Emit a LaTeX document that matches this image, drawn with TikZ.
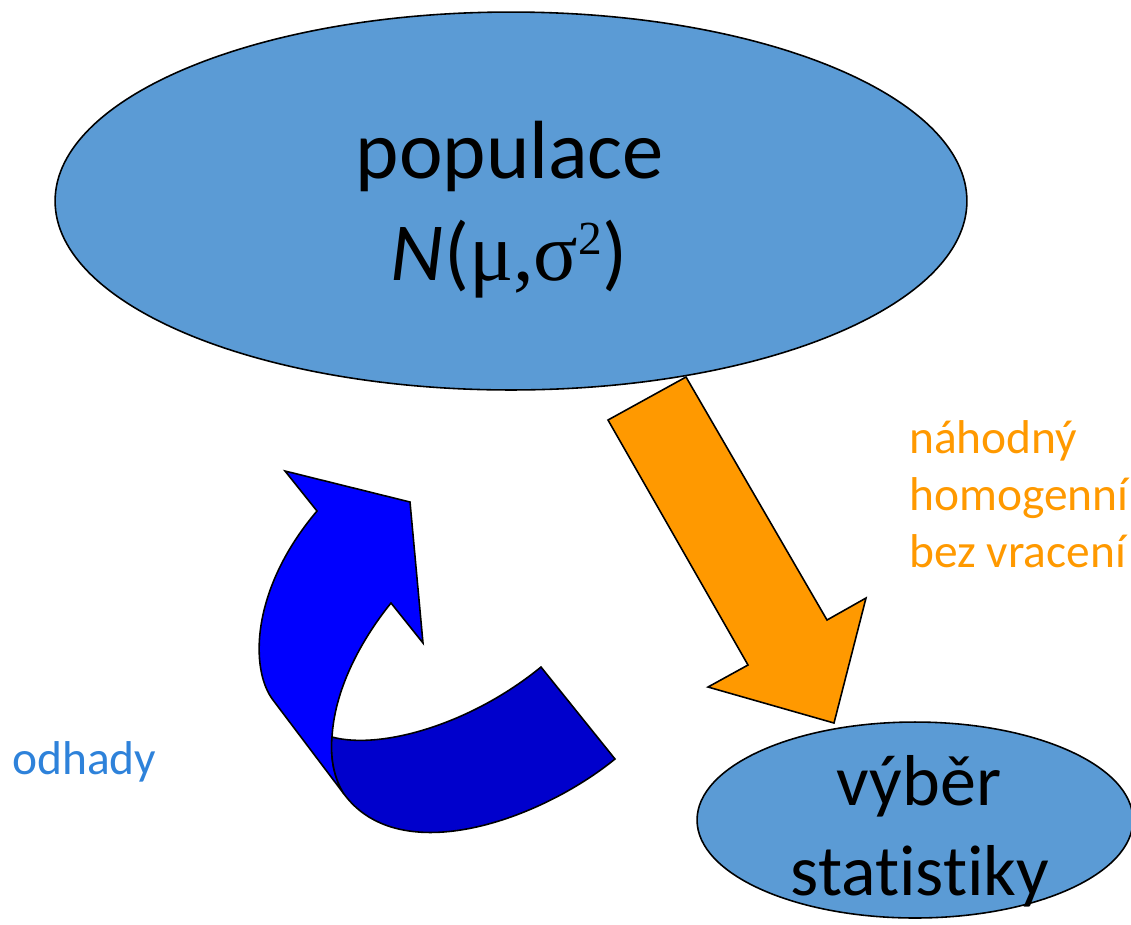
\documentclass[tikz,border=0pt]{standalone}
\usepackage{fontspec}
\setmainfont{Carlito}[Ligatures={NoCommon}]
\newfontfamily\seriffam{Liberation Serif}
\usetikzlibrary{shapes.geometric}
\definecolor{ellblue}{RGB}{91,155,213}
\definecolor{arrorange}{RGB}{255,153,0}
\definecolor{lightblue}{RGB}{0,0,255}
\definecolor{darkblue}{RGB}{0,0,204}
\definecolor{txtblue}{RGB}{46,130,218}
\tikzset{
  ellnode/.style={ellipse, draw=black, line width=0.9pt, fill=ellblue, inner sep=0pt},
  shapeline/.style={draw=black, line width=0.9pt, line join=miter},
  bigtxt/.style={anchor=base, inner sep=0pt, font=\fontsize{47}{56}\selectfont},
  smalltxt/.style={anchor=base, inner sep=0pt, font=\fontsize{41}{49}\selectfont},
  sidetxt/.style={anchor=base west, inner sep=0pt, font=\fontsize{27}{32}\selectfont}
}
\begin{document}
\begin{tikzpicture}[x=0.02cm, y=-0.02cm]
\useasboundingbox (0,0) rectangle (1131,924);
% ellipses
\node[ellnode, minimum width=18.24cm, minimum height=7.56cm] (pop) at (511,201) {};
\node[ellnode, minimum width=8.72cm, minimum height=3.92cm] (vyb) at (915,820) {};
% texts in ellipses
\node[bigtxt] (popt1) at (510,178) {populace};
\node[bigtxt] (popt2) at (509,280) {\textit{N}({\seriffam μ,σ\raisebox{14.5pt}{\fontsize{27}{27}\selectfont 2}})};
\node[smalltxt] (vybt1) at (919,805) {výběr};
\node[smalltxt] (vybt2) at (920,895) {statistiky};
% orange block arrow
\path[shapeline, fill=arrorange] (608,420) -- (686,377) -- (827,620) -- (866,598) -- (834,723) -- (708,687) -- (748,665) -- cycle;
% blue curved arrow: light part
\path[shapeline, fill=lightblue] (285,471) -- (410,502) -- (423,643) -- (391,603)
  .. controls (365,635) and (335,685) .. (332,737)
  .. controls (330,760) and (335,780) .. (344,794)
  -- (273,700)
  .. controls (250,670) and (250,590) .. (317,511)
  -- cycle;
% blue curved arrow: dark part
\path[shapeline, fill=darkblue] (332,737)
  .. controls (380,750) and (470,725) .. (541,667)
  -- (615,759)
  .. controls (540,820) and (400,870) .. (344,794)
  .. controls (335,780) and (330,760) .. (332,737)
  -- cycle;
% side texts
\node[sidetxt, text=arrorange] (t1) at (909,453) {náhodný};
\node[sidetxt, text=arrorange] (t2) at (909,510) {homogenní};
\node[sidetxt, text=arrorange] (t3) at (909,567) {bez vracení};
\node[sidetxt, text=txtblue] (od) at (12,774) {odhady};
\end{tikzpicture}
\end{document}
